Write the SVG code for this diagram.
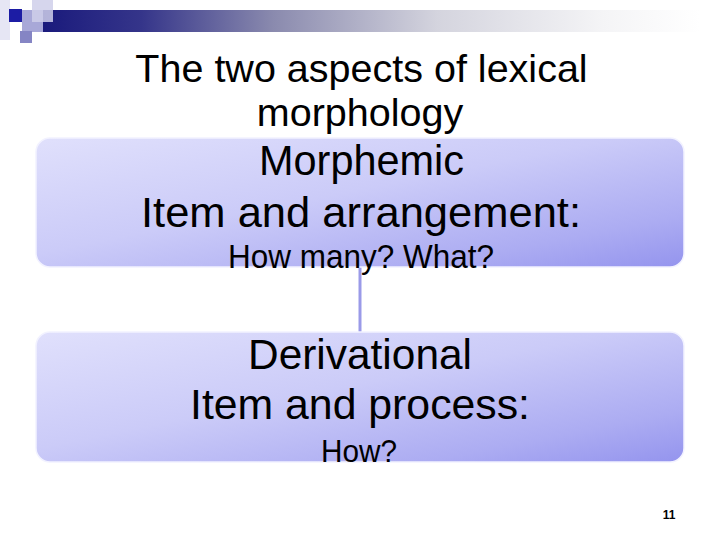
<svg xmlns="http://www.w3.org/2000/svg" width="720" height="540" viewBox="0 0 720 540">
  <defs>
    <linearGradient id="bar" x1="0" y1="0" x2="1" y2="0">
      <stop offset="0" stop-color="#1a1a7c"/>
      <stop offset="0.15" stop-color="#35358a"/>
      <stop offset="0.35" stop-color="#8a8aae"/>
      <stop offset="0.6" stop-color="#d4d4de"/>
      <stop offset="0.85" stop-color="#f4f4f6"/>
      <stop offset="1" stop-color="#ffffff"/>
    </linearGradient>
    <linearGradient id="box" x1="0" y1="0" x2="1" y2="1">
      <stop offset="0" stop-color="#e0e0fc"/>
      <stop offset="0.45" stop-color="#cbcbf8"/>
      <stop offset="0.8" stop-color="#acacf2"/>
      <stop offset="1" stop-color="#9494ee"/>
    </linearGradient>
    <style>
      .t { font-family: "Liberation Sans", Arial, sans-serif; fill: #000; text-anchor: middle; }
      .box { fill: url(#box); stroke: #f2f2ff; stroke-width: 1.5; }
      .conn { stroke: #9a9ae8; stroke-width: 3; fill: none; }
    </style>
  </defs>
  <rect width="720" height="540" fill="#ffffff"/>
  <g id="header">
    <rect x="0" y="0" width="10" height="40" fill="#e6e6f4"/>
    <rect x="43" y="10" width="657" height="22" fill="url(#bar)"/>
    <rect x="22" y="10" width="21" height="22" fill="#a8a8d8"/>
    <rect x="32" y="0" width="21" height="22" fill="#cfcfea" opacity="0.85"/>
    <rect x="9" y="9" width="13" height="13" fill="#1c1ca4"/>
    <rect x="20" y="31" width="12" height="12" fill="#8585c4"/>
  </g>
  <g id="title">
    <text class="t" x="361.5" y="82" font-size="39.5">The two aspects of lexical</text>
    <text class="t" x="360" y="126" font-size="39.5">morphology</text>
  </g>
  <g id="connectors">
    <line class="conn" x1="360" y1="266" x2="360" y2="333"/>
  </g>
  <g id="node-morphemic">
    <rect class="box" x="36" y="138" width="648" height="129" rx="14"/>
    <text class="t" x="361.5" y="175" font-size="43" textLength="205" lengthAdjust="spacingAndGlyphs">Morphemic</text>
    <text class="t" x="361" y="227" font-size="43" textLength="440" lengthAdjust="spacingAndGlyphs">Item and arrangement:</text>
    <text class="t" x="361" y="268" font-size="33" textLength="266" lengthAdjust="spacingAndGlyphs">How many? What?</text>
  </g>
  <g id="node-derivational">
    <rect class="box" x="36" y="332" width="648" height="130" rx="14"/>
    <text class="t" x="360" y="369" font-size="43" textLength="224" lengthAdjust="spacingAndGlyphs">Derivational</text>
    <text class="t" x="360" y="419" font-size="43" textLength="340" lengthAdjust="spacingAndGlyphs">Item and process:</text>
    <text class="t" x="359" y="462" font-size="31" textLength="76" lengthAdjust="spacingAndGlyphs">How?</text>
  </g>
  <g id="page">
    <text class="t" x="669" y="519" font-size="12" font-weight="bold">11</text>
  </g>
</svg>
